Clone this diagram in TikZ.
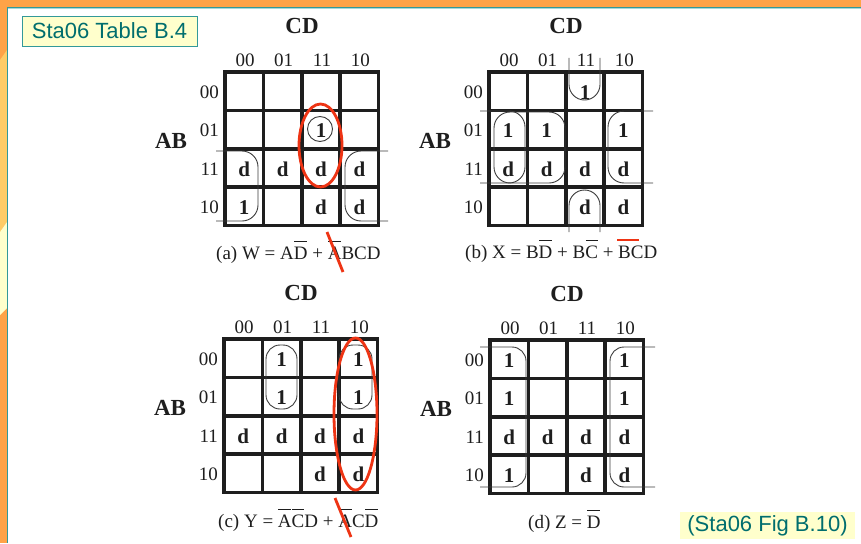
\documentclass[tikz,border=0pt]{standalone}
\usepackage{fontspec}
\setmainfont{Liberation Serif}
\newfontfamily\tagfont{Liberation Sans}
\definecolor{frameorange}{RGB}{255,163,71}
\definecolor{framelight}{RGB}{255,204,102}
\definecolor{paleyellow}{RGB}{255,255,204}
\definecolor{frameteal}{RGB}{51,153,153}
\definecolor{lightteal}{RGB}{170,215,215}
\definecolor{tagtext}{RGB}{0,110,110}
\definecolor{gridblack}{RGB}{30,30,30}
\definecolor{grpgray}{RGB}{60,60,60}
\definecolor{markred}{RGB}{238,52,20}
\newsavebox\ovlbox
\newcommand\ovl[1]{\leavevmode\sbox\ovlbox{#1}\vbox{\offinterlineskip\hbox to \wd\ovlbox{\hss\vrule height 1pt depth 0pt width \dimexpr\wd\ovlbox-1pt\relax\hss}\kern 4.5pt\box\ovlbox}}
\tikzset{
  kgrid/.style={draw=gridblack, line width=3.6pt},
  cellval/.style={font=\fontsize{21}{21}\selectfont\bfseries, inner sep=0pt, text=gridblack},
  collab/.style={font=\fontsize{19}{19}\selectfont, inner sep=0pt, text=gridblack},
  rowlab/.style={collab, anchor=east},
  varlab/.style={font=\fontsize{23}{23}\selectfont\bfseries, inner sep=0pt, text=gridblack},
  kcaption/.style={font=\fontsize{19}{19}\selectfont, inner sep=0pt, anchor=base west, text=gridblack},
  grp/.style={draw=grpgray, line width=0.9pt, rounded corners=16pt},
  redmark/.style={draw=markred, line width=2.8pt},
  tagbox/.style={font=\tagfont\fontsize{22}{22}\selectfont, text=tagtext, fill=paleyellow, inner sep=0pt}
}
\newcommand\kframe[1]{%
  \draw[kgrid] (0,0) rectangle (153.6,153.6);
  \foreach \k in {1,2,3} {
    \draw[kgrid] ({38.4*\k},0) -- ({38.4*\k},153.6);
    \draw[kgrid] (0,{38.4*\k}) -- (153.6,{38.4*\k});
  }
  \foreach \l [count=\i from 0] in {00,01,11,10} {
    \node[collab] (#1-col\i) at ({38.4*(\i+0.5)+1},-12) {\l};
    \node[rowlab] (#1-row\i) at (-6,{38.4*(\i+0.5)+1}) {\l};
  }
  \node[varlab] (#1-cd) at (77,-46) {CD};
  \node[varlab] (#1-ab) at (-54,69) {AB};
}
\begin{document}
\begin{tikzpicture}[x=1pt,y=-1pt]
\useasboundingbox (0,0) rectangle (861,543);
% frame
\fill[white] (0,0) rectangle (861,543);
\fill[frameorange] (0,0) rectangle (861,7);
\fill[frameorange] (0,0) rectangle (7,543);
\fill[framelight] (0,60) -- (7,50) -- (7,222) -- (0,232) -- cycle;
\fill[paleyellow] (0,232) -- (7,222) -- (7,308) -- (0,315) -- cycle;
\draw[lightteal, line width=1pt] (8,8.8) -- (861,8.8);
\draw[frameteal, line width=1.2pt] (7,7.5) -- (861,7.5);
\draw[frameteal, line width=1.2pt] (7.5,7) -- (7.5,543);
% tags
\node[tagbox, draw=frameteal, line width=0.8pt, minimum width=175pt, minimum height=30pt] (tag1) at (109.5,31) {Sta06 Table B.4};
\node[tagbox, minimum width=175pt, minimum height=27pt] (tag2) at (767.5,525.5) {(Sta06 Fig B.10)};

% ---------- map (a) ----------
\begin{scope}[shift={(225,72)}]
  \kframe{a}
  \foreach \r/\c/\v in {1/2/1, 2/0/d, 2/1/d, 2/2/d, 2/3/d, 3/0/1, 3/2/d, 3/3/d}
    \node[cellval] (a-\r-\c) at ({38.4*(\c+0.5)},{38.4*(\r+0.5)+1}) {\v};
\end{scope}
\draw[grp] (320,129) circle (12.5);
\draw[grp] (216,151) -- (258,151) -- (258,221) -- (216,221);
\draw[grp] (388,151) -- (345,151) -- (345,221) -- (388,221);
\draw[redmark] (320.5,145.5) ellipse [x radius=21.5, y radius=41.5];
\node[kcaption] (capa) at (216,259) {(a) W = A\ovl{D} + \ovl{A}BCD};
\draw[redmark] (327,232) -- (343,272);

% ---------- map (b) ----------
\begin{scope}[shift={(489,72)}]
  \kframe{b}
  \foreach \r/\c/\v in {0/2/1, 1/0/1, 1/1/1, 1/3/1, 2/0/d, 2/1/d, 2/2/d, 2/3/d, 3/2/d, 3/3/d}
    \node[cellval] (b-\r-\c) at ({38.4*(\c+0.5)},{38.4*(\r+0.5)+1}) {\v};
\end{scope}
\draw[grp, rounded corners=15.5pt] (569,58) -- (569,100) -- (600,100) -- (600,58);
\draw[grp, rounded corners=15.5pt] (569,232) -- (569,190) -- (600,190) -- (600,232);
\draw[grp] (480,111) -- (525,111) -- (525,183) -- (480,183);
\draw[grp] (653,111) -- (608,111) -- (608,183) -- (653,183);
\draw[grp] (494,112) rectangle (565,183);
\node[kcaption] (capb) at (465,258) {(b) X = B\ovl{D} + B\ovl{C} + \ovl{B}CD};
\draw[redmark] (617,240) -- (639,240);

% ---------- map (c) ----------
\begin{scope}[shift={(224,339)}]
  \kframe{c}
  \foreach \r/\c/\v in {0/1/1, 0/3/1, 1/1/1, 1/3/1, 2/0/d, 2/1/d, 2/2/d, 2/3/d, 3/2/d, 3/3/d}
    \node[cellval] (c-\r-\c) at ({38.4*(\c+0.5)},{38.4*(\r+0.5)+1}) {\v};
\end{scope}
\draw[grp, rounded corners=14pt] (266,345) rectangle (297,409);
\draw[grp, rounded corners=14pt] (339,345) rectangle (372,409);
\draw[redmark] (355.5,414) ellipse [x radius=21.5, y radius=76];
\node[kcaption] (capc) at (218,527) {(c) Y = \ovl{A}\ovl{C}D + \ovl{A}C\ovl{D}};
\draw[redmark] (335,498) -- (351,537);

% ---------- map (d) ----------
\begin{scope}[shift={(490,340)}]
  \kframe{d}
  \foreach \r/\c/\v in {0/0/1, 0/3/1, 1/0/1, 1/3/1, 2/0/d, 2/1/d, 2/2/d, 2/3/d, 3/0/1, 3/2/d, 3/3/d}
    \node[cellval] (d-\r-\c) at ({38.4*(\c+0.5)},{38.4*(\r+0.5)+1}) {\v};
\end{scope}
\draw[grp, rounded corners=14pt] (480,347) -- (526,347) -- (526,487) -- (480,487);
\draw[grp, rounded corners=14pt] (655,347) -- (610,347) -- (610,487) -- (655,487);
\node[kcaption] (capd) at (528,528) {(d) Z = \ovl{D}};
\end{tikzpicture}
\end{document}
